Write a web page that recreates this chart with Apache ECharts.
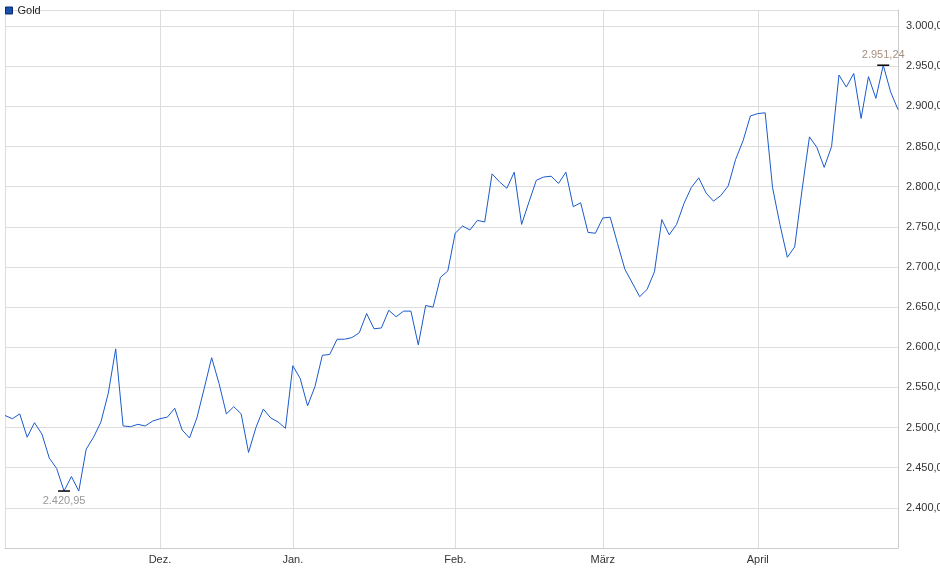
<!DOCTYPE html>
<html><head><meta charset="utf-8">
<script src="https://cdn.jsdelivr.net/npm/echarts@6/dist/echarts.min.js"></script>
<style>html,body{margin:0;padding:0;background:#fff}#c{width:940px;height:579px}</style>
</head><body><div id="c"></div>
<script>
const values = [2515,2511,2517,2488,2506,2492,2462,2449,2420.95,2439,2421,2473,2488,2507,2543,2598,2502,2501,2504,2502,2508,2511,2513,2524,2497,2487,2512,2549,2587,2555,2517,2526,2517,2469,2500,2523,2512,2507,2499,2577,2561,
2527,2551,2590,2591,2610,2610,2612,2618,2642,2623,2624,2646,2638,2645,2645,2603,2652,2650,2687,2695,2742,2751,2746,2758,2756,2816,2806,2798,2818,2753,2781,2808,2812,2813,2804,2818,2775,2780,2743,2742,2761,
2762,2729,2697,2680,2663,2672,2694,2759,2740,2753,2779,2799,2811,2792,2782,2789,2801,2834,2857,2888,2891,2892,2799,2753,2712,2725,2796,2862,2849,2824,2850,2939,2924,2941,2885,2937,2910,2951.24,2918,2896];
const monthLabels = {21:'Dez.',39:'Jan.',61:'Feb.',81:'März',102:'April'};
const categories = values.map((v,i)=>String(i));
const fmt = v => v.toLocaleString('de-DE',{minimumFractionDigits:2,maximumFractionDigits:2});
const chart = echarts.init(document.getElementById('c'));
chart.setOption({
  animation:false,
  textStyle:{fontFamily:'Liberation Sans, Arial, sans-serif'},
  legend:{left:0,top:0,itemWidth:7,itemHeight:7,itemGap:4,icon:'rect',
    textStyle:{fontSize:11,color:'#222'},data:[{name:'Gold',itemStyle:{color:'#1a4fb0',borderColor:'#0a2a70',borderWidth:1}}]},
  grid:{left:5,right:42,top:10,bottom:31,containLabel:false,outerBoundsMode:'none'},
  xAxis:{type:'category',data:categories,boundaryGap:false,
    axisLine:{show:true,lineStyle:{color:'#ccc'}},axisTick:{show:false},
    axisLabel:{interval:(i)=>monthLabels[i]!==undefined,formatter:(v,i)=>monthLabels[i]||'',color:'#333',fontSize:11,margin:6},
    splitLine:{show:true,interval:(i)=>monthLabels[i]!==undefined||i===0,lineStyle:{color:'#ddd'}}},
  yAxis:{type:'value',position:'right',min:2350,max:3020,interval:50,
    axisLine:{show:true,lineStyle:{color:'#ccc'}},axisTick:{show:false},
    axisLabel:{showMaxLabel:false,color:'#333',fontSize:11,margin:8,
      formatter:v=>(v<2400||v>3000)?'':v.toLocaleString('de-DE',{minimumFractionDigits:3,maximumFractionDigits:3})},
    splitLine:{lineStyle:{color:'#ddd'}}},
  series:[{name:'Gold',type:'line',data:values,symbol:'none',
    lineStyle:{color:'#1a5acc',width:1},itemStyle:{color:'#1a4fb0'},
    markPoint:{symbol:'rect',symbolSize:[12,1.5],itemStyle:{color:'#000'},
      data:[
        {type:'min',label:{position:'bottom',distance:4,color:'#999',fontSize:11,formatter:p=>fmt(p.value)}},
        {type:'max',label:{position:'top',distance:4,color:'#a89080',fontSize:11,formatter:p=>fmt(p.value)}}
      ]}}]
});
</script></body></html>
